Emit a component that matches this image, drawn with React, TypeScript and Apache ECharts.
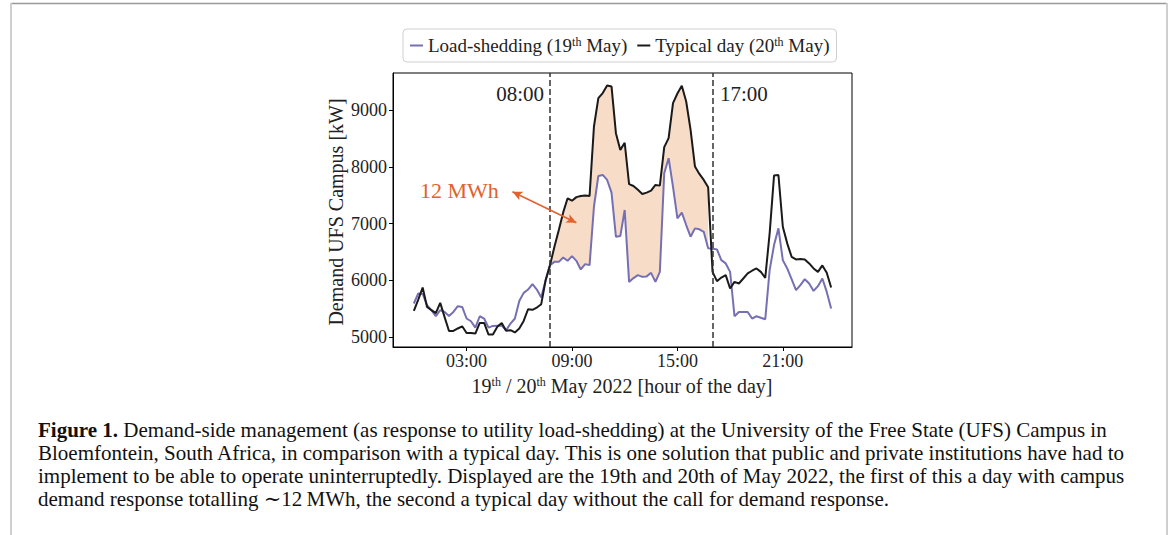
import React, { useEffect, useRef } from 'react';
import * as echarts from 'echarts';

// 15-minute samples (hours of the day)
const SAMPLE_HOURS: number[] = Array.from({ length: 96 }, (_, i) => i * 0.25);

// Load-shedding day (19th May), kW
const LOAD_SHEDDING: number[] = [
  5591, 5768, 5760, 5561, 5473, 5366, 5473, 5442, 5372, 5442,
  5543, 5531, 5326, 5278, 5166, 5366, 5326, 5166, 5195, 5200,
  5200, 5119, 5237, 5326, 5637, 5779, 5838, 5933, 5838, 5697,
  6003, 6269, 6327, 6327, 6405, 6345, 6428, 6345, 6193, 6287,
  6269, 7300, 7844, 7862, 7773, 7550, 6770, 6782, 7242, 5973,
  6040, 6092, 6062, 6070, 6133, 5973, 6150, 7892, 8157, 7650,
  7095, 7195, 6977, 6770, 6918, 6901, 6858, 6565, 6560, 6547,
  6357, 6299, 6150, 5366, 5442, 5442, 5442, 5326, 5366, 5340,
  5313, 6180, 6623, 6918, 6357, 6210, 6021, 5827, 5915, 6021,
  5945, 5814, 5897, 6033, 5796, 5503,
];

// Typical day (20th May), kW
const TYPICAL_DAY: number[] = [
  5460, 5660, 5874, 5531, 5473, 5420, 5602, 5350, 5106, 5106,
  5150, 5189, 5070, 5070, 5060, 5248, 5248, 5042, 5042, 5180,
  5248, 5110, 5120, 5080, 5150, 5283, 5490, 5480, 5520, 5579,
  6003, 6269, 6593, 6888, 7200, 7450, 7407, 7470, 7490, 7500,
  7490, 8717, 9219, 9308, 9442, 9425, 8600, 8304, 8430, 7700,
  7667, 7600, 7526, 7550, 7584, 7685, 7673, 8352, 8512, 9131,
  9300, 9437, 9159, 8658, 8009, 7880, 7773, 7644, 6150, 5986,
  6050, 6092, 5857, 5973, 5945, 6033, 6122, 6170, 6210, 6150,
  6044, 6830, 7850, 7860, 6947, 6653, 6416, 6370, 6375, 6370,
  6299, 6210, 6150, 6264, 6133, 5874,
];

const X_TICKS = [3, 9, 15, 21];
const X_TICK_LABELS = ['03:00', '09:00', '15:00', '21:00'];
const Y_TICKS = [5000, 6000, 7000, 8000, 9000];
const EVENT_HOURS = [7.75, 17];
const EVENT_LABELS = ['08:00', '17:00'];
const FILL_FROM = 31;
const FILL_TO = 67;
const ARROW_FROM = [5.61, 7566];
const ARROW_TO = [9.25, 7018];
const ANNOTATION = '12 MWh';
const SERIES_NAMES = ['Load-shedding (19th May)', 'Typical day (20th May)'];

const CAPTION_LINES = [
  '{b|Figure 1.}{r| Demand-side management (as response to utility load-shedding) at the University of the Free State (UFS) Campus in}',
  '{r|Bloemfontein, South Africa, in comparison with a typical day. This is one solution that public and private institutions have had to}',
  '{r|implement to be able to operate uninterruptedly. Displayed are the 19th and 20th of May 2022, the first of this a day with campus}',
  '{r|demand response totalling \u223C12\u2009MWh, the second a typical day without the call for demand response.}',
];

const FONT = '"Liberation Serif", "DejaVu Serif", serif';
const BLUE = '#7570b3';
const BLACK = '#1a1a1a';
const ORANGE = '#e0622e';
const FILL = '#f7dcc8';

export default function App() {
  const ref = useRef<HTMLDivElement>(null);

  useEffect(() => {
    if (!ref.current) return;
    const chart = echarts.init(ref.current, undefined, { renderer: 'svg' });

    const blueData = SAMPLE_HOURS.map((t, i) => [t, LOAD_SHEDDING[i]]);
    const blackData = SAMPLE_HOURS.map((t, i) => [t, TYPICAL_DAY[i]]);
    const fillIdx: number[] = [];
    for (let i = FILL_FROM; i <= FILL_TO; i++) fillIdx.push(i);

    const sup = { fontSize: 12, fontFamily: FONT, verticalAlign: 'top', color: '#222' };
    const normal = (size: number) => ({ fontSize: size, fontFamily: FONT, color: '#222' });

    const option: any = {
      animation: false,
      backgroundColor: '#fff',
      grid: {
        left: 393, top: 73, width: 459, height: 274,
        show: true, borderColor: '#000', borderWidth: 1, backgroundColor: 'transparent',
      },
      legend: {
        data: SERIES_NAMES,
        left: 403, top: 29,
        orient: 'horizontal',
        backgroundColor: '#fff',
        borderColor: '#d0d0d0', borderWidth: 1, borderRadius: 4,
        padding: [7, 7, 7, 7],
        itemGap: 10,
        itemWidth: 13, itemHeight: 2,
        icon: 'rect',
        formatter: (name: string) => {
          const m = name.match(/^(.*?\()(\d+)th(.*)$/);
          if (!m) return `{n|${name}}`;
          return `{n|${m[1]}${m[2]}}{s|th}{n|${m[3]}}`;
        },
        textStyle: {
          fontFamily: FONT, fontSize: 19, color: '#222',
          rich: { n: normal(19), s: sup },
        },
      },
      xAxis: {
        type: 'value',
        min: -1.1875, max: 24.9375,
        axisLine: { show: true, onZero: false, lineStyle: { color: '#000', width: 1 } },
        axisTick: { show: true, inside: false, length: 4, customValues: X_TICKS, lineStyle: { color: '#000' } },
        axisLabel: {
          show: true, customValues: X_TICKS, margin: 5,
          fontFamily: FONT, fontSize: 18, color: '#222',
          formatter: (v: number) => X_TICK_LABELS[X_TICKS.indexOf(v)] ?? '',
        },
        splitLine: { show: false },
      },
      yAxis: {
        type: 'value',
        min: 4823, max: 9662,
        axisLine: { show: true, onZero: false, lineStyle: { color: '#000', width: 1 } },
        axisTick: { show: true, inside: false, length: 4, customValues: Y_TICKS, lineStyle: { color: '#000' } },
        axisLabel: {
          show: true, customValues: Y_TICKS, margin: 6,
          fontFamily: FONT, fontSize: 18, color: '#222',
          formatter: (v: number) => String(v),
        },
        splitLine: { show: false },
      },
      series: [
        {
          name: 'fill', type: 'custom', silent: true, z: 1,
          data: [[SAMPLE_HOURS[FILL_FROM], LOAD_SHEDDING[FILL_FROM]]],
          clip: true,
          renderItem: (_params: any, api: any) => {
            const top = fillIdx.map((i) => api.coord([SAMPLE_HOURS[i], TYPICAL_DAY[i]]));
            const bottom = fillIdx.slice().reverse().map((i) => api.coord([SAMPLE_HOURS[i], LOAD_SHEDDING[i]]));
            return {
              type: 'polygon',
              shape: { points: top.concat(bottom) },
              style: { fill: FILL, stroke: 'none' },
            };
          },
        },
        {
          name: SERIES_NAMES[0], type: 'line', data: blueData,
          showSymbol: false, symbol: 'none', z: 3,
          lineStyle: { color: BLUE, width: 2 }, itemStyle: { color: BLUE },
        },
        {
          name: SERIES_NAMES[1], type: 'line', data: blackData,
          showSymbol: false, symbol: 'none', z: 4,
          lineStyle: { color: BLACK, width: 2 }, itemStyle: { color: BLACK },
          markLine: {
            silent: true, symbol: 'none', animation: false,
            label: { show: false },
            lineStyle: { color: '#333', type: [6, 3], width: 1.5 },
            data: EVENT_HOURS.map((h) => ({ xAxis: h })),
          },
        },
        {
          name: 'arrow', type: 'line', data: [], z: 5,
          markLine: {
            silent: true, animation: false,
            symbol: ['arrow', 'arrow'], symbolSize: [7, 10],
            label: { show: false },
            lineStyle: { color: ORANGE, type: 'solid', width: 1.6 },
            data: [[{ coord: ARROW_FROM }, { coord: ARROW_TO }]],
          },
        },
      ],
      graphic: [
        // page frame
        { type: 'line', shape: { x1: 10.5, y1: 3.5, x2: 1167, y2: 3.5 }, style: { stroke: '#9a9a9a', lineWidth: 1.5 } },
        { type: 'line', shape: { x1: 11, y1: 3, x2: 11, y2: 535 }, style: { stroke: '#cfcfcf', lineWidth: 2 } },
        { type: 'line', shape: { x1: 1167, y1: 3, x2: 1167, y2: 535 }, style: { stroke: '#cfcfcf', lineWidth: 2 } },
        // event labels
        { type: 'text', x: 544, y: 94, style: { text: EVENT_LABELS[0], fill: '#222', fontFamily: FONT, fontSize: 21, align: 'right', verticalAlign: 'middle' } },
        { type: 'text', x: 720, y: 94, style: { text: EVENT_LABELS[1], fill: '#222', fontFamily: FONT, fontSize: 21, align: 'left', verticalAlign: 'middle' } },
        { type: 'text', x: 420, y: 190, style: { text: ANNOTATION, fill: ORANGE, fontFamily: FONT, fontSize: 22, align: 'left', verticalAlign: 'middle' } },
        // axis titles
        {
          type: 'text', x: 336, y: 212, rotation: Math.PI / 2,
          style: { text: 'Demand UFS Campus [kW]', fill: '#222', fontFamily: FONT, fontSize: 20, align: 'center', verticalAlign: 'middle' },
        },
        {
          type: 'text', x: 622, y: 386,
          style: {
            text: '{n|19}{s|th}{n| / 20}{s|th}{n| May 2022 [hour of the day]}',
            fill: '#222', fontFamily: FONT, fontSize: 20, align: 'center', verticalAlign: 'middle',
            rich: { n: normal(20), s: sup },
          },
        },
        // caption
        ...CAPTION_LINES.map((line, k) => ({
          type: 'text', x: 38, y: 430 + k * 23,
          style: {
            text: line,
            fill: '#111', fontFamily: FONT, fontSize: 21, align: 'left', verticalAlign: 'middle',
            rich: {
              b: { fontFamily: FONT, fontSize: 21, fontWeight: 'bold', color: '#111' },
              r: { fontFamily: FONT, fontSize: 21, color: '#111' },
            },
          },
        })),
      ],
    };

    chart.setOption(option);
    return () => chart.dispose();
  }, []);

  return (
    <div
      ref={ref}
      style={{ position: 'absolute', left: 0, top: 0, width: 1173, height: 535, background: '#fff' }}
    />
  );
}
